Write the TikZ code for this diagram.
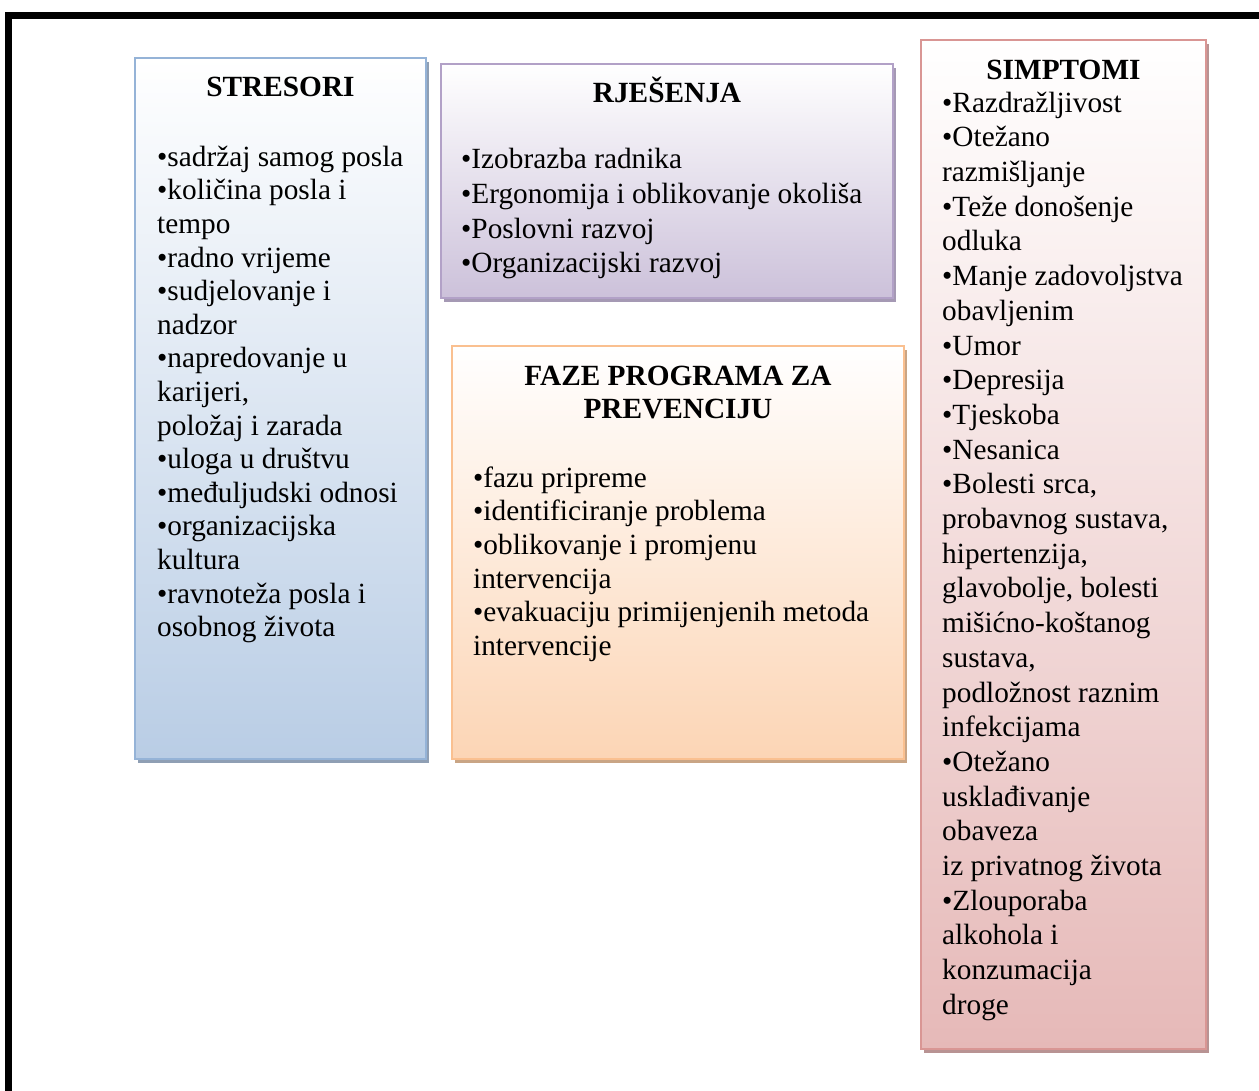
\documentclass[tikz,border=0pt]{standalone}
\usepackage{fontspec}
\setmainfont{Liberation Serif}
\usetikzlibrary{positioning,
        shadows}
\usepackage{xcolor}

\definecolor{stresFill}{HTML}{B9CDE5}
\definecolor{stresLine}{HTML}{95B3D7}
\definecolor{stresShade}{HTML}{8F9FB4}
\definecolor{rjesFill}{HTML}{CCC1DA}
\definecolor{rjesLine}{HTML}{B2A1C7}
\definecolor{rjesShade}{HTML}{A599B4}
\definecolor{fazeFill}{HTML}{FCD5B5}
\definecolor{fazeLine}{HTML}{FAC090}
\definecolor{fazeShade}{HTML}{C9A585}
\definecolor{simpFill}{HTML}{E6B9B8}
\definecolor{simpLine}{HTML}{D99694}
\definecolor{simpShade}{HTML}{B89393}

\begin{document}
\begin{tikzpicture}[x=1pt,y=-1pt,
        box/.style={rectangle,draw=#1Line,line width=2.5pt,top color=white,bottom color=#1Fill,
            drop shadow={shadow xshift=3pt,shadow yshift=-4pt,opacity=1,fill=#1Shade}},
        head/.style={inner sep=0pt,font={\bfseries\fontsize{29.3}{33.6}\selectfont}},
        listtext/.style={inner sep=0pt,anchor=north west,align=left,font={\fontsize{29.3}{#1}\selectfont}}]
            \useasboundingbox (0,0) rectangle (1259,1091);
            \clip (0,0) rectangle (1259,1091);
            \draw [line width=7pt] (8.5,16) rectangle (1290,1120);

            \node [box=stres,minimum width=291pt,minimum height=701pt] (stresori) at (280.5,408.5) {};
            \node [box=rjes,minimum width=452pt,minimum height=234pt] (rjesenja) at (667,181) {};
            \node [box=faze,minimum width=452pt,minimum height=413pt] (faze) at (678,552.5) {};
            \node [box=simp,minimum width=285pt,minimum height=1009pt] (simptomi) at (1063.5,544.5) {};

            \node [head,anchor=base] (stresoriHead) at (280.5,97) {STRESORI};
            \node [listtext=33.6] (stresoriList) at (157,142.5) {\strut•sadržaj samog posla\\•količina posla i\\tempo\\•radno vrijeme\\•sudjelovanje i\\nadzor\\•napredovanje u\\karijeri,\\položaj i zarada\\•uloga u društvu\\•međuljudski odnosi\\•organizacijska\\kultura\\•ravnoteža posla i\\osobnog života};

            \node [head,anchor=base] (rjesenjaHead) at (667,103) {RJEŠENJA};
            \node [listtext=34.7] (rjesenjaList) at (461,144.2) {\strut•Izobrazba radnika\\•Ergonomija i oblikovanje okoliša\\•Poslovni razvoj\\•Organizacijski razvoj};

            \node [head,anchor=north,align=center] (fazeHead) at (678,361.5) {\strut FAZE PROGRAMA ZA\\PREVENCIJU};
            \node [listtext=33.6] (fazeList) at (473,463.5) {\strut•fazu pripreme\\•identificiranje problema\\•oblikovanje i promjenu\\intervencija\\•evakuaciju primijenjenih metoda\\intervencije};

            \node [head,anchor=base] (simptomiHead) at (1063.5,80) {SIMPTOMI};
            \node [listtext=34.7] (simptomiList) at (942,87.7) {\strut•Razdražljivost\\•Otežano\\razmišljanje\\•Teže donošenje\\odluka\\•Manje zadovoljstva\\obavljenim\\•Umor\\•Depresija\\•Tjeskoba\\•Nesanica\\•Bolesti srca,\\probavnog sustava,\\hipertenzija,\\glavobolje, bolesti\\mišićno-koštanog\\sustava,\\podložnost raznim\\infekcijama\\•Otežano\\usklađivanje\\obaveza\\iz privatnog života\\•Zlouporaba\\alkohola i\\konzumacija\\droge};
        \end{tikzpicture}
\end{document}
